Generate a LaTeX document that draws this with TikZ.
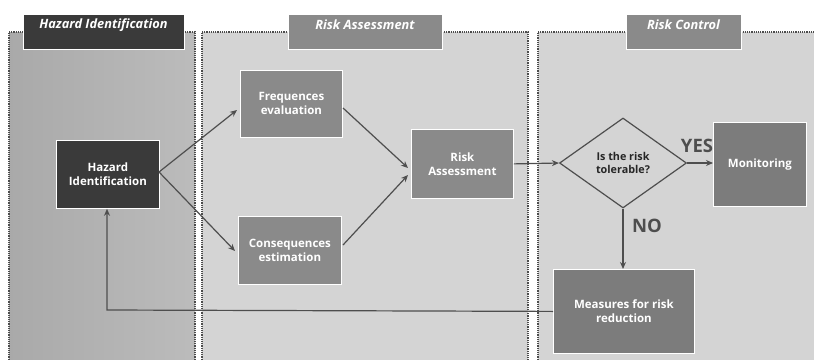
\documentclass[tikz,border=0pt]{standalone}
\usepackage{fontspec}
\setmainfont{Open Sans}
\usetikzlibrary{shapes.geometric,arrows.meta}
\definecolor{darkbox}{HTML}{3A3A3A}
\definecolor{midbox}{HTML}{8A8A8A}
\definecolor{measbox}{HTML}{7C7C7C}
\definecolor{panelA}{HTML}{B4B4B4}
\definecolor{panelB}{HTML}{D4D4D4}
\definecolor{arrowc}{HTML}{4E4E4E}
\tikzset{
  panel/.style={draw=black!70, densely dotted, line width=1.2pt},
  ptitle/.style={draw=white, line width=0.8pt, minimum height=35pt, anchor=north west, inner sep=0pt},
  ttext/.style={text=white, font=\bfseries\itshape\fontsize{12.8}{15}\selectfont, inner sep=0pt},
  box/.style={draw=white, line width=0.8pt, text=white, font=\bfseries\fontsize{11.5}{14}\selectfont, align=center, inner sep=0pt, anchor=north west},
  conn/.style={draw=arrowc, line width=1.2pt, -{Stealth[length=7pt,width=6pt]}},
  lbl/.style={text=arrowc, font=\bfseries\fontsize{18.5}{20}\selectfont, inner sep=0pt}
}
\begin{document}
\begin{tikzpicture}[x=1pt,y=-1pt]
\useasboundingbox (0,0) rectangle (814,359);
\fill[white] (0,0) rectangle (814,359);
% panels
\shade[left color=panelA!94!black, right color=panelA!90!white] (9,32) rectangle (195,362);
\draw[panel] (9,362) -- (9,32) -- (195,32) -- (195,362);
\fill[panelB] (202,32) rectangle (528,362);
\draw[panel] (202,362) -- (202,32) -- (528,32) -- (528,362);
\fill[panelB] (538,32) rectangle (818,362);
\draw[panel] (538,362) -- (538,32) -- (818,32);
% panel titles
\node[ptitle, fill=darkbox, minimum width=161pt] (t1) at (23,14) {};
\node[ttext] at (103.5,25) {Hazard Identification};
\node[ptitle, fill=midbox, minimum width=154pt] (t2) at (288,14) {};
\node[ttext] at (365,25) {Risk Assessment};
\node[ptitle, fill=midbox, minimum width=115pt] (t3) at (626,14) {};
\node[ttext] at (683.5,25) {Risk Control};
% nodes
\node[box, fill=darkbox, minimum width=103pt, minimum height=68pt] (haz) at (56,140) {Hazard\\Identification};
\node[box, fill=midbox, minimum width=102pt, minimum height=67pt] (freq) at (240,70) {Frequences\\evaluation};
\node[box, fill=midbox, minimum width=103pt, minimum height=68pt] (cons) at (238,216) {Consequences\\estimation};
\node[box, fill=midbox, minimum width=102pt, minimum height=69pt] (risk) at (411,129) {Risk\\Assessment};
\node[diamond, draw=arrowc, line width=1.2pt, fill=panelB, minimum width=127pt, minimum height=90pt, inner sep=0pt, align=center, font=\bfseries\fontsize{10.8}{13}\selectfont, text=black!85] (dia) at (623,163) {Is the risk\\tolerable?};
\node[box, fill=measbox, minimum width=93pt, minimum height=84pt] (mon) at (713,122) {Monitoring};
\node[box, fill=measbox, minimum width=141pt, minimum height=84pt] (meas) at (553,269) {Measures for risk\\reduction};
% labels
\node[lbl] (yes) at (697,146) {YES};
\node[lbl] (no) at (647,226) {NO};
% connectors
\coordinate (h1) at (159,172);
\coordinate (f1) at (237,110);
\coordinate (c1) at (235,251);
\coordinate (f2) at (343,108);
\coordinate (c2) at (343,245);
\coordinate (r1) at (408,168);
\coordinate (r2) at (408,175);
\draw[conn] (h1) -- (f1);
\draw[conn] (h1) -- (c1);
\draw[conn] (f2) -- (r1);
\draw[conn] (c2) -- (r2);
\draw[conn] (risk.east) -- (dia.west);
\draw[conn] (dia.east) -- (mon.west |- dia.east);
\draw[conn] (dia.south) -- (meas.north -| dia.south);
\coordinate (back) at (107,310);
\draw[conn] (meas.west) -- (back) -- (haz.south -| back);
\end{tikzpicture}
\end{document}
